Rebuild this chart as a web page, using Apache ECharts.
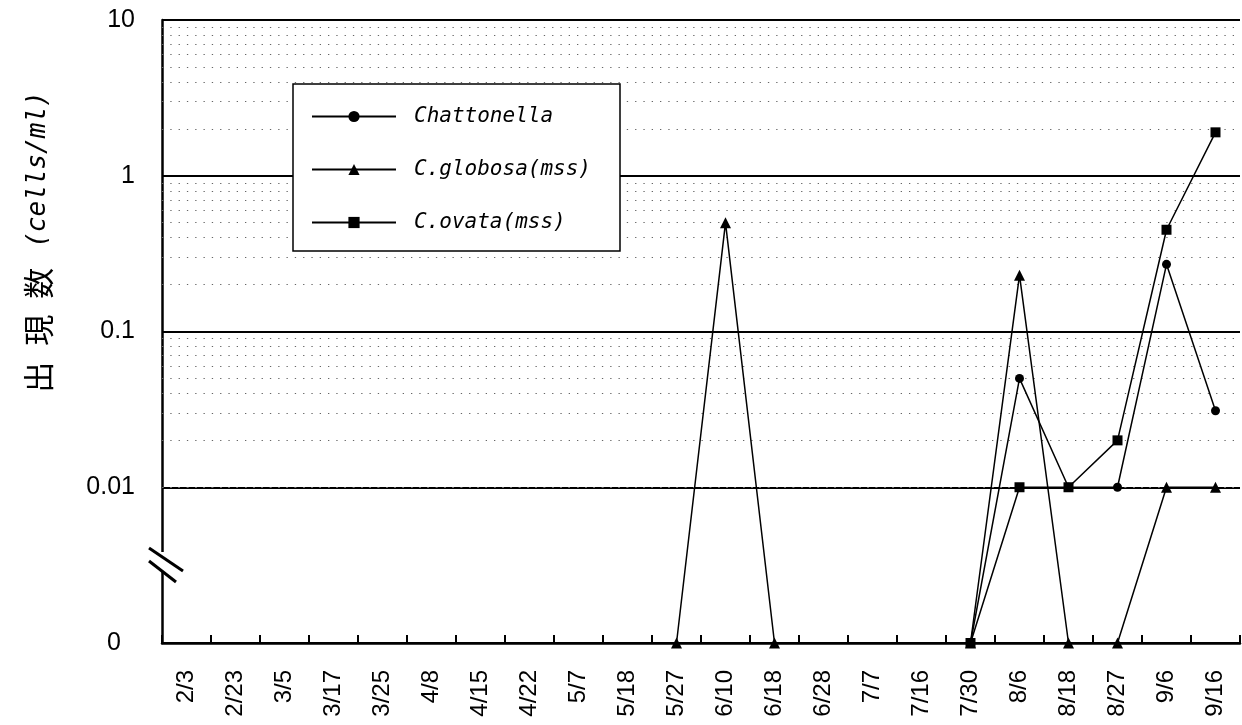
<!DOCTYPE html>
<html>
<head>
<meta charset="utf-8">
<script src="https://cdn.jsdelivr.net/npm/echarts@6/dist/echarts.min.js"></script>
<style>html,body{margin:0;padding:0;background:#fff;}#c{width:1242px;height:725px;}</style>
</head>
<body>
<div id="c"></div>
<script>
// Sampling dates (x categories)
const categories = ['2/3','2/23','3/5','3/17','3/25','4/8','4/15','4/22','5/7','5/18','5/27','6/10','6/18','6/28','7/7','7/16','7/30','8/6','8/18','8/27','9/6','9/16'];
// "0" is plotted at the bottom of the log axis (0.001, labelled "0")
const ZERO = 0.001;
const chattonella = [null,null,null,null,null,null,null,null,null,null,null,null,null,null,null,null,ZERO,0.05,0.01,0.01,0.27,0.031];
const globosa     = [null,null,null,null,null,null,null,null,null,null,ZERO,0.5,ZERO,null,null,null,ZERO,0.23,ZERO,ZERO,0.01,0.01];
const ovata       = [null,null,null,null,null,null,null,null,null,null,null,null,null,null,null,null,ZERO,0.01,0.01,0.02,0.45,1.9];
const seriesNames = ['Chattonella','C.globosa(mss)','C.ovata(mss)'];
const yTickLabels = ['0','0.01','0.1','1','10'];
const minorGridValues = [0.002,0.003,0.004,0.005,0.006,0.007,0.008,0.009,
                         0.02,0.03,0.04,0.05,0.06,0.07,0.08,0.09,
                         0.2,0.3,0.4,0.5,0.6,0.7,0.8,0.9,
                         2,3,4,5,6,7,8,9];

const chart = echarts.init(document.getElementById('c'), null, {renderer:'canvas'});
const lineStyle = {color:'#000', width:1.5};
function mk(name, data, symbol, size){
  return {name, type:'line', data, symbol, symbolSize:size, connectNulls:false,
    itemStyle:{color:'#000'}, lineStyle, z:3, animation:false, clip:false};
}
const s0 = mk(seriesNames[0], chattonella, 'circle', 9);
s0.markLine = {silent:true, symbol:'none', animation:false, z:1,
  label:{show:false},
  lineStyle:{color:'#666', width:1.1, type:[1.3,7]},
  data: minorGridValues.map(v=>({yAxis:v}))};
const option = {
  backgroundColor:'#fff',
  animation:false,
  grid:{left:162, right:2, top:20, bottom:82, containLabel:false},
  legend:{orient:'vertical', left:293, top:84, backgroundColor:'#fff', borderColor:'#000', borderWidth:1.5,
    padding:[22,29,18,18], itemGap:32, itemWidth:84, itemHeight:14, z:10,
    textStyle:{fontFamily:'DejaVu Sans Mono', fontStyle:'italic', fontSize:21, color:'#000', padding:[0,0,0,13]},
    data:seriesNames},
  xAxis:{type:'category', data:categories, boundaryGap:true,
    axisLine:{lineStyle:{color:'#000', width:2.5}},
    axisTick:{show:true, inside:true, length:8, interval:0, lineStyle:{color:'#000', width:2}},
    axisLabel:{interval:0, rotate:90, margin:27, color:'#000', fontFamily:'Liberation Sans', fontSize:24},
    splitLine:{show:false}},
  yAxis:{type:'log', logBase:10, min:0.001, max:10,
    axisLine:{show:true, lineStyle:{color:'#000', width:2.5}},
    axisTick:{show:false},
    axisLabel:{margin:27, color:'#000', fontFamily:'Liberation Sans', fontSize:25,
      formatter:(v,i)=> i===0 ? '{z|'+yTickLabels[0]+'}' : yTickLabels[i],
      rich:{z:{fontFamily:'Liberation Sans', fontSize:25, color:'#000', padding:[0,14,0,0]}}},
    splitLine:{show:true, lineStyle:{color:'#000', width:2.2}},
    minorSplitLine:{show:false}},
  series:[s0, mk(seriesNames[1], globosa, 'triangle', 11), mk(seriesNames[2], ovata, 'rect', 10)],
  graphic:[
    {type:'rect', silent:true, z:100, shape:{x:158, y:552, width:10, height:20}, style:{fill:'#fff'}},
    {type:'line', silent:true, z:101, shape:{x1:149, y1:548, x2:183, y2:571}, style:{stroke:'#000', lineWidth:3}},
    {type:'line', silent:true, z:101, shape:{x1:149, y1:561, x2:176, y2:582}, style:{stroke:'#000', lineWidth:3}},
    {type:'text', silent:true, z:100, x:38, y:246, rotation:Math.PI/2,
      style:{text:'{c|出}{c|現}{c|数}{g| }{i|(cells/ml)}', align:'center', verticalAlign:'middle',
        rich:{c:{fontFamily:'Noto Sans CJK JP', fontSize:31, fill:'#000', padding:[0,8,0,8]},
              g:{fontSize:14, padding:[0,4,0,4]},
              i:{fontFamily:'DejaVu Sans Mono', fontStyle:'italic', fontSize:26, fill:'#000'}}}}
  ]
};
chart.setOption(option);
</script>
</body>
</html>
